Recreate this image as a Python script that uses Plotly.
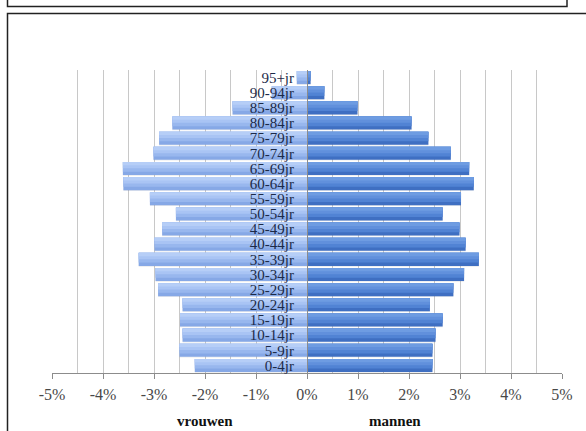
import plotly.graph_objects as go

# ---- data (bottom to top) ----
age_groups = ["0-4jr", "5-9jr", "10-14jr", "15-19jr", "20-24jr", "25-29jr", "30-34jr",
              "35-39jr", "40-44jr", "45-49jr", "50-54jr", "55-59jr", "60-64jr", "65-69jr",
              "70-74jr", "75-79jr", "80-84jr", "85-89jr", "90-94jr", "95+jr"]
vrouwen = [-2.20, -2.50, -2.44, -2.49, -2.44, -2.92, -2.97, -3.30, -2.99, -2.84,
           -2.57, -3.08, -3.60, -3.61, -3.01, -2.90, -2.64, -1.46, -0.69, -0.20]
mannen = [2.46, 2.46, 2.52, 2.66, 2.41, 2.87, 3.08, 3.37, 3.11, 2.99,
          2.66, 3.02, 3.27, 3.18, 2.82, 2.38, 2.05, 0.99, 0.34, 0.07]
x_ticks = [-5, -4, -3, -2, -1, 0, 1, 2, 3, 4, 5]
x_tick_labels = ["-5%", "-4%", "-3%", "-2%", "-1%", "0%", "1%", "2%", "3%", "4%", "5%"]
side_labels = ["vrouwen", "mannen"]
side_label_x = [-2.0, 1.72]

W, H = 586, 431
L, R, T, B = 52, 24, 70, 58
pw, ph = W - L - R, H - T - B


def px_x(p):
    return (p - L) / pw


def px_y(p):
    return (H - B - p) / ph


fig = go.Figure()

# soft shadow
for vals in (vrouwen, mannen):
    fig.add_trace(go.Bar(y=age_groups, x=vals, orientation="h", width=0.88, offset=-0.48,
                         marker=dict(color="rgba(70,80,110,0.12)", line=dict(width=0)),
                         hoverinfo="skip", showlegend=False))
# gradient bands (bottom -> top: darker -> lighter)
bands = [
    (0.86, -0.43, "#86A8E6", "#3F6FC2"),
    (0.64, -0.21, "#98B7EE", "#5183D4"),
    (0.42, 0.01, "#A9C4F4", "#6190DC"),
    (0.22, 0.21, "#B6CEF7", "#6E9CE2"),
]
for w, off, cw, cm in bands:
    fig.add_trace(go.Bar(y=age_groups, x=vrouwen, orientation="h", width=w, offset=off,
                         marker=dict(color=cw, line=dict(width=0)), showlegend=False))
    fig.add_trace(go.Bar(y=age_groups, x=mannen, orientation="h", width=w, offset=off,
                         marker=dict(color=cm, line=dict(width=0)), showlegend=False))

for txt, xv in zip(side_labels, side_label_x):
    fig.add_annotation(x=xv, y=px_y(421), xref="x", yref="paper", text="<b>%s</b>" % txt,
                       showarrow=False, font=dict(family="Liberation Serif", size=15, color="#111"),
                       xanchor="center", yanchor="middle")

# frames
fig.add_shape(type="rect", xref="paper", yref="paper", x0=px_x(7.5), x1=px_x(620),
              y0=px_y(460), y1=px_y(13.5), line=dict(color="#222", width=1.5))
fig.add_shape(type="rect", xref="paper", yref="paper", x0=px_x(7.5), x1=px_x(567),
              y0=px_y(6.5), y1=px_y(-20), line=dict(color="#222", width=1.5))

fig.update_layout(
    width=W, height=H, margin=dict(l=L, r=R, t=T, b=B),
    paper_bgcolor="white", plot_bgcolor="white",
    barmode="overlay", showlegend=False,
    xaxis=dict(range=[-5, 5], tickvals=x_ticks, ticktext=x_tick_labels,
               showgrid=True, gridcolor="#C8C8C8", gridwidth=1,
               minor=dict(dtick=0.5, tick0=0, showgrid=True, gridcolor="#C8C8C8", gridwidth=1),
               zeroline=False, showline=True, linecolor="#8C8C8C", linewidth=1,
               ticks="outside", ticklen=5, tickcolor="#8C8C8C", ticklabelstandoff=2,
               tickfont=dict(family="Liberation Serif", size=16, color="#484848"),
               fixedrange=True),
    yaxis=dict(type="category", categoryorder="array", categoryarray=age_groups,
               tickmode="array", tickvals=age_groups, ticktext=age_groups,
               range=[-0.5, 19.5], anchor="free", position=0.5,
               showline=True, linecolor="#8C8C8C", linewidth=1, showgrid=False,
               ticks="", ticklabelstandoff=10,
               tickfont=dict(family="Liberation Serif", size=15, color="#1C2A48"),
               fixedrange=True),
)

fig.write_html("out.html")
